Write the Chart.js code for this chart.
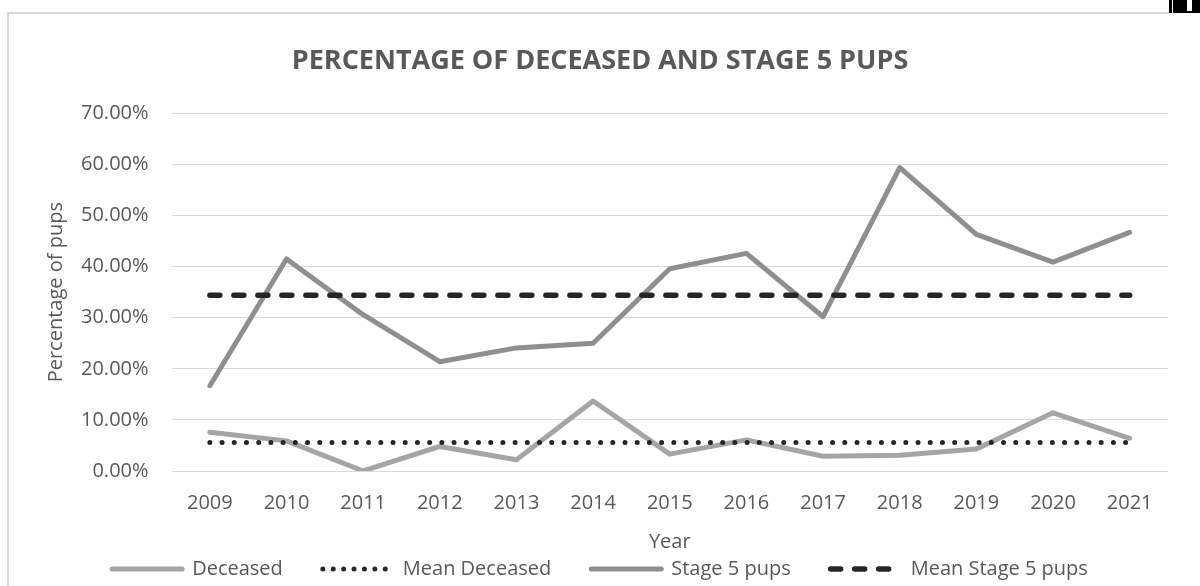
<!DOCTYPE html>
<html>
<head>
<meta charset="utf-8">
<title>Percentage of deceased and stage 5 pups</title>
<script src="https://cdn.jsdelivr.net/npm/chart.js@4.4.1/dist/chart.umd.min.js"></script>
<style>
  html, body { margin: 0; padding: 0; background: #ffffff; }
  body { width: 1200px; height: 586px; position: relative; overflow: hidden; }
  #frame-left { position: absolute; left: 7px; top: 12px; width: 2px; height: 574px; background: #d9d9d9; }
  #frame-top { position: absolute; left: 7px; top: 12px; width: 1162px; height: 2px; background: #d9d9d9; }
  #chart-box { position: absolute; left: 9px; top: 14px; width: 1191px; height: 575px; }
  #corner-bar { position: absolute; left: 1169px; top: 0; width: 3px; height: 13px; background: #000; }
  #corner-block { position: absolute; left: 1173px; top: 0; width: 27px; height: 13px; background: #000; }
  #corner-slit { position: absolute; left: 1187px; top: 0; width: 5px; height: 11px; background: #fff; }
</style>
</head>
<body>
<div id="frame-left"></div>
<div id="frame-top"></div>
<div id="corner-bar"></div>
<div id="corner-block"></div>
<div id="corner-slit"></div>
<div id="chart-box"><canvas id="pups-chart"></canvas></div>
<script>
'use strict';

//*********** Data ***********
let years = ['2009', '2010', '2011', '2012', '2013', '2014', '2015', '2016', '2017', '2018', '2019', '2020', '2021'];
let deceased = [7.6, 5.9, 0.0, 4.8, 2.2, 13.7, 3.3, 6.1, 2.9, 3.1, 4.3, 11.4, 6.4];
let meanDeceased = [5.6, 5.6, 5.6, 5.6, 5.6, 5.6, 5.6, 5.6, 5.6, 5.6, 5.6, 5.6, 5.6];
let stage5 = [16.7, 41.5, 30.6, 21.4, 24.1, 25.0, 39.6, 42.6, 30.2, 59.4, 46.3, 40.9, 46.7];
let meanStage5 = [34.4, 34.4, 34.4, 34.4, 34.4, 34.4, 34.4, 34.4, 34.4, 34.4, 34.4, 34.4, 34.4];

let textGrey = '#595959';
let fontName = '"Open Sans", sans-serif';

// dash patterns used in the legend samples (slightly tighter than on the plot)
let legendDashes = [[], [0.01, 10.4], [], [10, 14]];

let pupsChart = document.getElementById('pups-chart');

// Builds the legend items by hand so the dotted / dashed samples keep their dash
function buildLegendItems(chart) {
  return chart.data.datasets.map(function (ds, i) {
    return {
      text: ds.label,
      fillStyle: ds.borderColor,
      strokeStyle: ds.borderColor,
      fontColor: textGrey,
      lineWidth: ds.borderWidth,
      lineDash: legendDashes[i],
      lineCap: 'round',
      pointStyle: 'line',
      hidden: false,
      datasetIndex: i
    };
  });
}

let chartConfig = {
  type: 'line',
  data: {
    labels: years,
    datasets: [
      {
        label: 'Deceased',
        data: deceased,
        borderColor: '#a5a5a5',
        backgroundColor: '#a5a5a5',
        borderWidth: 5,
        borderCapStyle: 'round',
        borderJoinStyle: 'round',
        order: 4
      },
      {
        label: 'Mean Deceased',
        data: meanDeceased,
        borderColor: '#262626',
        backgroundColor: '#262626',
        borderWidth: 5,
        borderDash: [0.01, 12.2],
        borderCapStyle: 'round',
        order: 3
      },
      {
        label: 'Stage 5 pups',
        data: stage5,
        borderColor: '#8f8f8f',
        backgroundColor: '#8f8f8f',
        borderWidth: 5,
        borderCapStyle: 'round',
        borderJoinStyle: 'round',
        order: 2
      },
      {
        label: 'Mean Stage 5 pups',
        data: meanStage5,
        borderColor: '#262626',
        backgroundColor: '#262626',
        borderWidth: 5.5,
        borderDash: [10, 14],
        borderCapStyle: 'round',
        order: 1
      }
    ]
  },
  options: {
    responsive: true,
    maintainAspectRatio: false,
    animation: false,
    events: [],
    elements: {
      point: { radius: 0 },
      line: { tension: 0, fill: false }
    },
    layout: {
      padding: { left: 23, right: 32, top: 0, bottom: 0 }
    },
    plugins: {
      title: {
        display: true,
        text: 'PERCENTAGE OF DECEASED AND STAGE 5 PUPS',
        color: textGrey,
        font: { family: fontName, size: 27, weight: 'bold', lineHeight: 1.2 },
        padding: { top: 31, bottom: 36 }
      },
      legend: {
        position: 'bottom',
        labels: {
          color: textGrey,
          font: { family: fontName, size: 20 },
          usePointStyle: true,
          pointStyle: 'line',
          pointStyleWidth: 70,
          padding: 40,
          generateLabels: buildLegendItems
        }
      },
      tooltip: { enabled: false }
    },
    scales: {
      x: {
        offset: true,
        grid: { display: false, drawTicks: false },
        border: { display: false },
        ticks: {
          color: textGrey,
          font: { family: fontName, size: 20 },
          padding: 20,
          maxRotation: 0
        },
        title: {
          display: true,
          text: 'Year',
          color: textGrey,
          font: { family: fontName, size: 20, lineHeight: 1.2 },
          padding: { top: -5, bottom: -35 }
        }
      },
      y: {
        min: 0,
        max: 70,
        grid: { color: '#d9d9d9', lineWidth: 1, drawTicks: false },
        border: { display: false },
        ticks: {
          stepSize: 10,
          color: textGrey,
          font: { family: fontName, size: 20 },
          padding: 23,
          callback: function (value) { return value.toFixed(2) + '%'; }
        },
        title: {
          display: true,
          text: 'Percentage of pups',
          color: textGrey,
          font: { family: fontName, size: 20, lineHeight: 1.2 },
          padding: { top: 12, bottom: -10 }
        }
      }
    }
  }
};

new Chart(pupsChart, chartConfig);
</script>
</body>
</html>
